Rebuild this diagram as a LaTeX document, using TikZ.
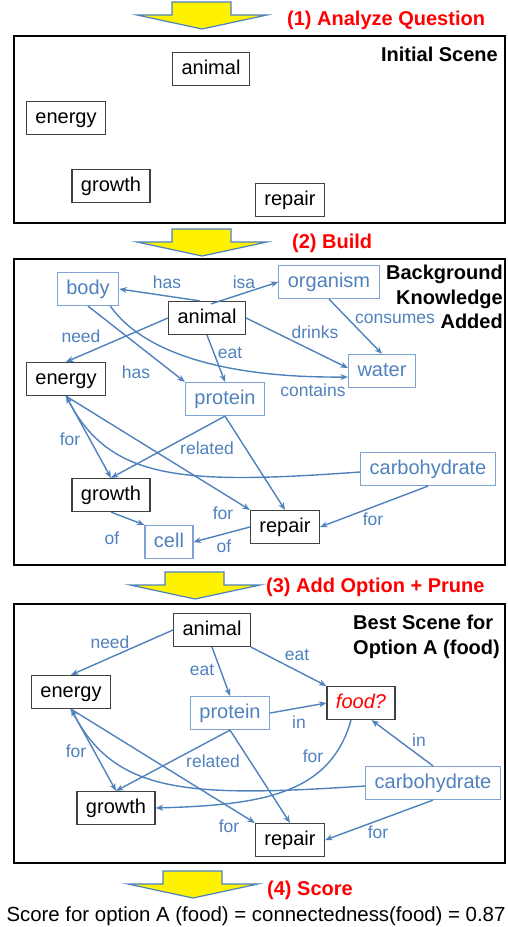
\documentclass[tikz,border=0pt]{standalone}
\usepackage{fontspec}
\setmainfont{Liberation Sans}
\usetikzlibrary{arrows.meta}
\definecolor{edgeblue}{RGB}{79,129,189}
\definecolor{boxblue}{RGB}{126,163,212}
\definecolor{boxgray}{RGB}{64,64,64}
\tikzset{
  concept/.style={draw=boxgray, line width=1.2pt, inner xsep=9pt, inner ysep=0pt,
    text height=15pt, text depth=5pt, minimum height=33pt,
    font=\fontsize{20}{24}\selectfont},
  known/.style={concept, draw=boxblue, text=edgeblue},
  rel/.style={draw=edgeblue, line width=1.4pt, -{Stealth[length=7.5pt,width=6pt]}},
  rlabel/.style={text=edgeblue, inner sep=0pt, font=\fontsize{17.5}{21}\selectfont},
  stage/.style={text=red, inner sep=0pt, anchor=west, font=\fontsize{20}{24}\selectfont\bfseries},
  heading/.style={inner sep=0pt, font=\fontsize{20}{24.5}\selectfont\bfseries},
  panel/.style={draw=black, line width=2pt},
  bigarrow/.style={fill=yellow, draw=edgeblue, line width=1.2pt}
}
\begin{document}
\begin{tikzpicture}[x=1pt, y=-1pt]
    \useasboundingbox (0,0) rectangle (508,927);
    % yellow step arrows and stage titles
    \foreach \ax/\ay in {202/2, 202/229, 195/572, 193/871}
        \draw[bigarrow] (\ax-30,\ay) -- (\ax+29,\ay) -- (\ax+29,\ay+13) -- (\ax+65,\ay+13)
            -- (\ax,\ay+27) -- (\ax-65,\ay+13) -- (\ax-30,\ay+13) -- cycle;
    \node[stage] (s1) at (287,20) {(1) Analyze Question};
    \node[stage] (s2) at (292,243) {(2) Build};
    \node[stage] (s3) at (266,587) {(3) Add Option + Prune};
    \node[stage] (s4) at (267,890) {(4) Score};

    % panel 1: initial scene
    \draw[panel] (14,36) rectangle (505,223);
    \node[heading, anchor=east] (title1) at (498,54) {Initial Scene};
    \node[concept] (animal1) at (211,69) {animal};
    \node[concept] (energy1) at (66,118) {energy};
    \node[concept] (growth1) at (111,186) {growth};
    \node[concept] (repair1) at (290,200) {repair};

    % panel 2: background knowledge
    \draw[panel] (14,259) rectangle (505,565);
    \node[heading, anchor=east, align=right] (title2) at (503,297) {Background\\Knowledge\\Added};
    \node[known] (body2) at (88,289) {body};
    \node[concept] (animal2) at (207,318) {animal};
    \node[known] (organism2) at (329,282) {organism};
    \node[concept] (energy2) at (66,379) {energy};
    \node[known] (water2) at (382,371) {water};
    \node[known] (protein2) at (225,399) {protein};
    \node[known] (carbohydrate2) at (428,469) {carbohydrate};
    \node[concept] (growth2) at (111,495) {growth};
    \node[concept] (repair2) at (285,527) {repair};
    \node[known] (cell2) at (169,542) {cell};

    \draw[rel] ([xshift=-7pt]animal2.north) -- (body2.east);
    \draw[rel] ([xshift=4pt,yshift=-3pt]animal2.north) -- (organism2.west);
    \draw[rel] (animal2.west) -- (energy2.north);
    \draw[rel] (body2.south) -- (protein2.north west);
    \draw[rel] ([xshift=-9pt]body2.south east) .. controls (145,355) and (230,378) .. ([yshift=-6pt]water2.west);
    \draw[rel] (animal2.east) -- ([yshift=3pt]water2.west);
    \draw[rel] (organism2.south) -- (water2.north);
    \draw[rel] (animal2.south) -- (protein2.north);
    \draw[rel] (energy2.south) -- (growth2.north);
    \draw[rel] (energy2.south) -- (repair2.north west);
    \draw[rel] ([yshift=-3pt]carbohydrate2.west) .. controls (180,485) and (110,480) .. (energy2.south);
    \draw[rel] (protein2.south) -- (growth2.north);
    \draw[rel] (protein2.south) -- (repair2.north);
    \draw[rel] (carbohydrate2.south) -- (repair2.east);
    \draw[rel] (growth2.south) -- (cell2.north west);
    \draw[rel] (repair2.west) -- (cell2.east);

    \node[rlabel] (l2-has) at (167,282) {has};
    \node[rlabel] (l2-isa) at (244,282) {isa};
    \node[rlabel] (l2-need) at (81,336) {need};
    \node[rlabel] (l2-has2) at (136,372) {has};
    \node[rlabel] (l2-contains) at (313,390) {contains};
    \node[rlabel] (l2-drinks) at (315,332) {drinks};
    \node[rlabel] (l2-consumes) at (395,319) {consumes};
    \node[rlabel] (l2-eat) at (230,353) {eat};
    \node[rlabel] (l2-for) at (70,439) {for};
    \node[rlabel] (l2-related) at (207,448) {related};
    \node[rlabel] (l2-for2) at (223,513) {for};
    \node[rlabel] (l2-for3) at (373,519) {for};
    \node[rlabel] (l2-of) at (112,538) {of};
    \node[rlabel] (l2-of2) at (224,546) {of};

    % panel 3: best scene for option A
    \draw[panel] (14,604) rectangle (505,863);
    \node[heading, anchor=west, align=left] (title3) at (353,637) {Best Scene for\\Option A (food)};
    \node[concept] (animal3) at (212,630) {animal};
    \node[concept] (energy3) at (71,692) {energy};
    \node[known] (protein3) at (230,713) {protein};
    \node[concept, text=red, font=\fontsize{20}{24}\selectfont\itshape] (food3) at (361,703) {food?};
    \node[known] (carbohydrate3) at (433,783) {carbohydrate};
    \node[concept] (growth3) at (116,808) {growth};
    \node[concept] (repair3) at (290,840) {repair};

    \draw[rel] (animal3.west) -- (energy3.north);
    \draw[rel] (animal3.south) -- (protein3.north);
    \draw[rel] (animal3.south east) -- (food3.north west);
    \draw[rel] (protein3.east) -- (food3.west);
    \draw[rel] (carbohydrate3.north) -- ([xshift=-24pt]food3.south east);
    \draw[rel] ([xshift=-10pt]food3.south) .. controls (330,795) and (260,805) .. (growth3.east);
    \draw[rel] (energy3.south) -- (growth3.north);
    \draw[rel] (energy3.south) -- (repair3.north west);
    \draw[rel] ([yshift=-3pt]carbohydrate3.west) .. controls (185,798) and (115,793) .. (energy3.south);
    \draw[rel] (protein3.south) -- (growth3.north);
    \draw[rel] (protein3.south) -- (repair3.north);
    \draw[rel] (carbohydrate3.south) -- (repair3.east);

    \node[rlabel] (l3-need) at (110,642) {need};
    \node[rlabel] (l3-eat) at (202,670) {eat};
    \node[rlabel] (l3-eat2) at (297,655) {eat};
    \node[rlabel] (l3-in) at (299,722) {in};
    \node[rlabel] (l3-in2) at (419,740) {in};
    \node[rlabel] (l3-for) at (313,756) {for};
    \node[rlabel] (l3-for2) at (76,751) {for};
    \node[rlabel] (l3-related) at (213,761) {related};
    \node[rlabel] (l3-for3) at (229,826) {for};
    \node[rlabel] (l3-for4) at (378,832) {for};

    % final score
    \node[inner sep=0pt, font=\fontsize{20.4}{24}\selectfont] (score) at (256,916)
        {Score for option A (food) = connectedness(food) = 0.87};
\end{tikzpicture}
\end{document}
